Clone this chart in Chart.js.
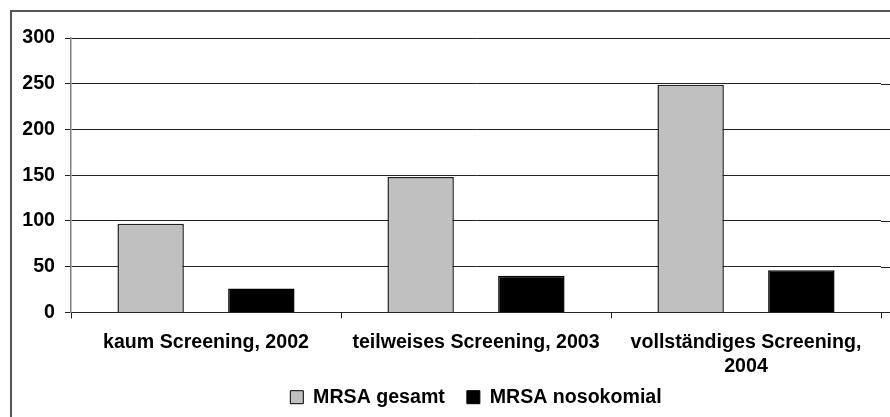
<!DOCTYPE html>
<html>
<head>
<meta charset="utf-8">
<script src="https://cdn.jsdelivr.net/npm/chart.js@4/dist/chart.umd.min.js"></script>
<style>
html,body{margin:0;padding:0;background:#fff;}
#wrap{position:relative;width:890px;height:417px;overflow:hidden;}
#frame{position:absolute;left:10px;top:10px;width:900px;height:420px;border-left:2px solid #555;border-top:2px solid #555;box-sizing:border-box;pointer-events:none;}
canvas{position:absolute;left:0;top:0;}
</style>
</head>
<body>
<div id="wrap">
<canvas id="c" width="890" height="417"></canvas>
<div id="frame"></div>
</div>
<script>
const categories = ["kaum Screening, 2002", "teilweises Screening, 2003", ["vollständiges Screening,", "2004"]];
const seriesNames = ["MRSA gesamt", "MRSA nosokomial"];
const mrsaGesamt = [97, 148, 249];
const mrsaNosokomial = [26, 40, 46];
const yTicks = [0, 50, 100, 150, 200, 250, 300];

const FONT = "'Liberation Sans', Arial, sans-serif";
const FS = 19.6;

const extendGrid = {
  id: 'extendGrid',
  beforeDraw(chart) {
    // let the wrapped category label extend below the x-axis box
    chart.scales.x._computeLabelArea = () => null;
  },
  afterDraw(chart) {
    const ctx = chart.ctx, y = chart.scales.y, a = chart.chartArea;
    ctx.save();
    ctx.strokeStyle = '#222';
    ctx.lineWidth = 1;
    yTicks.forEach(v => {
      const py = Math.round(y.getPixelForValue(v)) + 0.5;
      ctx.beginPath();
      ctx.moveTo(a.right, py);
      ctx.lineTo(chart.width, py);
      ctx.stroke();
    });
    ctx.restore();
  }
};

new Chart(document.getElementById('c'), {
  type: 'bar',
  data: {
    labels: categories,
    datasets: [
      { label: seriesNames[0], data: mrsaGesamt, backgroundColor: '#c0c0c0', borderColor: '#222', borderWidth: 1.5,
        categoryPercentage: 0.82, barPercentage: 0.6 },
      { label: seriesNames[1], data: mrsaNosokomial, backgroundColor: '#000', borderColor: '#000', borderWidth: 1.5,
        categoryPercentage: 0.82, barPercentage: 0.6 }
    ]
  },
  options: {
    responsive: false,
    animation: false,
    devicePixelRatio: 1,
    layout: { padding: { left: 22, right: 9, top: 38, bottom: 0 } },
    plugins: {
      tooltip: { enabled: false },
      title: { display: false },
      legend: {
        position: 'bottom',
        fullSize: false,
        labels: {
          color: '#000',
          font: { family: FONT, size: FS, weight: 'bold' },
          boxWidth: 13, boxHeight: 13, padding: 22,
          generateLabels(chart) {
            return chart.data.datasets.map((d, i) => ({
              text: d.label, fillStyle: d.backgroundColor, strokeStyle: '#000', lineWidth: 1,
              datasetIndex: i, hidden: false, fontColor: '#000'
            }));
          }
        }
      }
    },
    scales: {
      x: {
        offset: true,
        grid: { display: true, drawOnChartArea: false, color: '#222', tickLength: 6, offset: true },
        border: { display: true, color: '#222', width: 1 },
        ticks: { color: '#000', font: { family: FONT, size: FS, weight: 'bold', lineHeight: 1.22 }, padding: 12, maxRotation: 0, autoSkip: false },
        afterFit(scale) { scale.height = 53; }
      },
      y: {
        min: 0, max: 300,
        afterBuildTicks(scale) { scale.ticks = yTicks.map(v => ({ value: v })); },
        grid: { color: '#222', lineWidth: 1, tickLength: 6 },
        border: { display: true, color: '#808080', width: 1.5 },
        ticks: { color: '#000', font: { family: FONT, size: FS, weight: 'bold' }, padding: 10 },
        afterFit(scale) { scale.width = 49; }
      }
    }
  },
  plugins: [extendGrid]
});
</script>
</body>
</html>
